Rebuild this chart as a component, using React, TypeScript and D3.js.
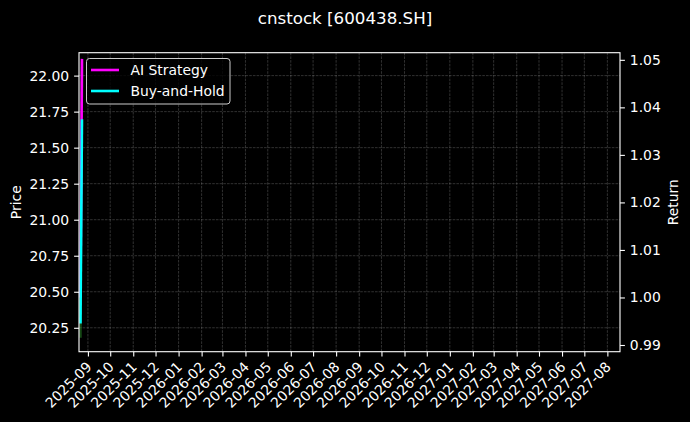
import React, { useEffect, useRef } from "react";
import * as d3 from "d3";

// Chart data
const dates = ["2025-08-22", "2025-08-24"];
const priceValues = [20.18, 22.06];
const strategyValues = [1.0, 1.0502];
const buyHoldValues = [0.9945, 1.0375];

const monthTicks = [
  "2025-09", "2025-10", "2025-11", "2025-12",
  "2026-01", "2026-02", "2026-03", "2026-04", "2026-05", "2026-06",
  "2026-07", "2026-08", "2026-09", "2026-10", "2026-11", "2026-12",
  "2027-01", "2027-02", "2027-03", "2027-04", "2027-05", "2027-06",
  "2027-07", "2027-08",
];
const priceTicks = [20.25, 20.5, 20.75, 21.0, 21.25, 21.5, 21.75, 22.0];
const returnTicks = [0.99, 1.0, 1.01, 1.02, 1.03, 1.04, 1.05];

const legendItems = [
  { label: "AI Strategy", color: "#ff00ff" },
  { label: "Buy-and-Hold", color: "#00ffff" },
];

const App = () => {
  const ref = useRef<SVGSVGElement>(null);

  useEffect(() => {
    const width = 690;
    const height = 422;
    const left = 79;
    const right = 620;
    const top = 52.7;
    const bottom = 351.7;
    const font = "'DejaVu Sans', sans-serif";

    const svg = d3.select(ref.current);
    svg.selectAll("*").remove();

    svg.append("rect").attr("width", width).attr("height", height).attr("fill", "#000");

    const parse = d3.timeParse("%Y-%m-%d");
    const parseMonth = d3.timeParse("%Y-%m");

    const x = d3
      .scaleTime()
      .domain([parse("2025-08-20")!, parse("2027-08-18")!])
      .range([left, right]);
    const yLeft = d3.scaleLinear().domain([20.084, 22.159]).range([bottom, top]);
    const yRight = d3.scaleLinear().domain([0.98859, 1.0515]).range([bottom, top]);

    const tickDates = monthTicks.map((m) => parseMonth(m)!);

    // grid (dashed, faint)
    const grid = svg.append("g").attr("stroke", "#ffffff").attr("stroke-opacity", 0.28)
      .attr("stroke-width", 0.7).attr("stroke-dasharray", "2.6,1.1");
    grid.selectAll(".gx").data(tickDates).enter().append("line")
      .attr("x1", (d) => x(d)).attr("x2", (d) => x(d))
      .attr("y1", top).attr("y2", bottom);
    grid.selectAll(".gy").data(priceTicks).enter().append("line")
      .attr("x1", left).attr("x2", right)
      .attr("y1", (d) => yLeft(d)).attr("y2", (d) => yLeft(d));

    const parsedDates = dates.map((d) => parse(d)!);

    // price line (left axis)
    const priceLine = d3.line<number>()
      .x((_, i) => x(parsedDates[i]))
      .y((d) => yLeft(d));
    svg.append("path").attr("d", priceLine(priceValues)!)
      .attr("fill", "none").attr("stroke", "#2ca02c").attr("stroke-opacity", 0.45)
      .attr("stroke-width", 2.5);

    // return lines (right axis)
    const retLine = d3.line<number>()
      .x((_, i) => x(parsedDates[i]))
      .y((d) => yRight(d));
    svg.append("path").attr("d", retLine(strategyValues)!)
      .attr("fill", "none").attr("stroke", legendItems[0].color).attr("stroke-width", 2.6);
    svg.append("path").attr("d", retLine(buyHoldValues)!)
      .attr("fill", "none").attr("stroke", legendItems[1].color).attr("stroke-width", 2.6);

    // frame
    svg.append("rect").attr("x", left).attr("y", top)
      .attr("width", right - left).attr("height", bottom - top)
      .attr("fill", "none").attr("stroke", "#fff").attr("stroke-width", 1.1);

    const styleAxis = (g: d3.Selection<SVGGElement, unknown, null, undefined>) => {
      g.select(".domain").remove();
      g.selectAll("line").attr("stroke", "#fff").attr("stroke-width", 1.1);
      g.selectAll("text").attr("fill", "#fff").attr("font-family", font).attr("font-size", 13.9);
    };

    // left axis
    svg.append("g").attr("transform", `translate(${left},0)`)
      .call(d3.axisLeft(yLeft).tickValues(priceTicks).tickFormat(d3.format(".2f"))
        .tickSize(4.9).tickPadding(4.9))
      .call(styleAxis);

    // right axis
    svg.append("g").attr("transform", `translate(${right},0)`)
      .call(d3.axisRight(yRight).tickValues(returnTicks).tickFormat(d3.format(".2f"))
        .tickSize(4.9).tickPadding(4.9))
      .call(styleAxis);

    // bottom axis with rotated month labels
    const xAxis = svg.append("g").attr("transform", `translate(0,${bottom})`)
      .call(d3.axisBottom(x).tickValues(tickDates).tickFormat(d3.timeFormat("%Y-%m") as any)
        .tickSize(4.9))
      .call(styleAxis);
    xAxis.selectAll("text")
      .attr("text-anchor", "end")
      .attr("dy", null)
      .attr("y", null)
      .attr("transform", "translate(4,16) rotate(-45)");

    // axis labels
    svg.append("text").attr("transform", `translate(21,${(top + bottom) / 2}) rotate(-90)`)
      .attr("text-anchor", "middle").attr("fill", "#fff")
      .attr("font-family", font).attr("font-size", 13.9).text("Price");
    svg.append("text").attr("transform", `translate(678,${(top + bottom) / 2}) rotate(-90)`)
      .attr("text-anchor", "middle").attr("fill", "#fff")
      .attr("font-family", font).attr("font-size", 13.9).text("Return");

    // title
    svg.append("text").attr("x", width / 2).attr("y", 24)
      .attr("text-anchor", "middle").attr("fill", "#fff")
      .attr("font-family", font).attr("font-size", 16.7).text("cnstock [600438.SH]");

    // legend
    const legend = svg.append("g");
    legend.append("rect").attr("x", 86.5).attr("y", 58.5).attr("width", 143.5).attr("height", 45.5)
      .attr("rx", 3).attr("fill", "#000").attr("fill-opacity", 0.8)
      .attr("stroke", "#ccc").attr("stroke-width", 1);
    legendItems.forEach((item, i) => {
      const cy = 70 + i * 21;
      legend.append("line").attr("x1", 91).attr("x2", 119).attr("y1", cy).attr("y2", cy)
        .attr("stroke", item.color).attr("stroke-width", 2.6);
      legend.append("text").attr("x", 130.5).attr("y", cy + 5.3).attr("fill", "#fff")
        .attr("font-family", font).attr("font-size", 13.9).text(item.label);
    });
  }, []);

  return (
    <svg
      ref={ref}
      width={690}
      height={422}
      style={{ position: "absolute", left: 0, top: 0, display: "block" }}
    />
  );
};

export default App;
